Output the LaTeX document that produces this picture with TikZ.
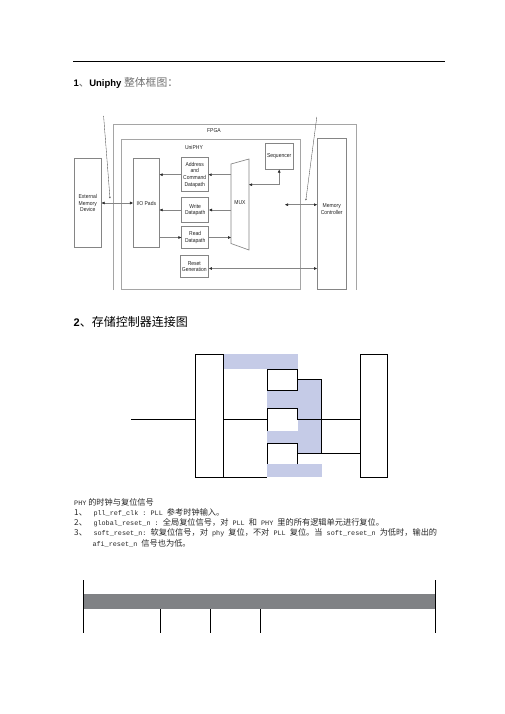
\documentclass[tikz,border=0pt]{standalone}
\usepackage{fontspec}
\setmainfont{Liberation Sans}
\newfontfamily\cjk{Noto Sans CJK SC}
\newfontfamily\monof{Liberation Mono}
\newfontfamily\condf[FakeStretch=0.88]{Liberation Sans}
\usetikzlibrary{arrows.meta}
\definecolor{figline}{HTML}{858585}
\definecolor{fpgaline}{HTML}{A5A5A5}
\definecolor{lav}{HTML}{C5CBE7}
\definecolor{barg}{HTML}{808285}
\definecolor{tgray}{HTML}{707070}
\definecolor{ftext}{HTML}{222222}
\newcommand\mn[1]{{\monof\fontsize{6.8pt}{10pt}\selectfont #1}}
\begin{document}
\begin{tikzpicture}[x=1pt,y=-1pt,
  fbox/.style={draw=figline,line width=0.65pt,inner sep=0pt,align=center,
    font=\condf\fontsize{5.7pt}{6.7pt}\selectfont,text=ftext},
  flbl/.style={inner sep=0pt,align=center,font=\condf\fontsize{5.7pt}{6.7pt}\selectfont,text=ftext},
  fline/.style={draw=figline,line width=0.65pt},
  arr/.style={draw=figline,line width=0.55pt,-{Triangle[length=3pt,width=2.6pt,color=black!85]}},
  darr/.style={draw=figline,line width=0.55pt,{Triangle[length=3pt,width=2.6pt,color=black!85]}-{Triangle[length=3pt,width=2.6pt,color=black!85]}},
  diag/.style={draw=black!70,line width=0.35pt,-{Triangle[length=1.6pt,width=1.4pt]}},
  blk/.style={draw=black,line width=0.9pt},
  txt/.style={anchor=base west,inner sep=0pt,font=\cjk\fontsize{8.2pt}{10pt}\selectfont,text=black!85},
  tick/.style={draw=black,line width=1.1pt}
]
\useasboundingbox (0,0) rectangle (505,714);

% ---------- heading 1 ----------
\draw[line width=0.8pt] (73.3,61.7) -- (445,61.7);
\node[anchor=base west,inner sep=0pt] (title1) at (73.3,86.4)
  {\fontsize{9.5pt}{11pt}\selectfont\bfseries 1{\cjk\mdseries\color{tgray}\fontsize{10.5pt}{12pt}\selectfont 、}Uniphy {\cjk\mdseries\color{tgray}\fontsize{10.8pt}{12pt}\selectfont 整体框图：}};

% ---------- figure 1 : UniPHY ----------
\draw[draw=fpgaline,line width=1pt] (113.3,290) -- (113.3,124.3) -- (356.7,124.3) -- (356.7,290);
\node[flbl] (fpgalbl) at (214,130.8) {FPGA};
\draw[draw=fpgaline,line width=0.9pt] (121.7,139.3) rectangle (300,289);
\node[flbl] (uniphylbl) at (194,147) {UniPHY};

\node[fbox,minimum width=27pt,minimum height=89.4pt] (ext) at (87.8,203) {External\\Memory\\Device};
\node[fbox,minimum width=26pt,minimum height=89.4pt] (io) at (146.3,203) {I/O Pads};
\node[fbox,minimum width=27.3pt,minimum height=34pt] (addr) at (194.7,174.7) {Address\\and\\Command\\Datapath};
\node[fbox,minimum width=27pt,minimum height=25.4pt] (wr) at (195.2,210) {Write\\Datapath};
\node[fbox,minimum width=27pt,minimum height=22pt] (rd) at (195.2,237.5) {Read\\Datapath};
\node[fbox,minimum width=28.7pt,minimum height=22.3pt] (rst) at (194.3,266.5) {Reset\\Generation};
\node[fbox,minimum width=28.3pt,minimum height=26pt] (seq) at (279.2,156.3) {Sequencer};
\node[fbox,minimum width=28.7pt,minimum height=150.7pt] (mc) at (331.7,213.65) {};
\node[flbl] (mclbl) at (331.7,209) {Memory\\Controller};

\draw[fline,fill=white] (231,164) -- (249,159) -- (249,250) -- (231,243.5) -- cycle;
\node[flbl] (mux) at (240,203) {MUX};
\coordinate (muxL) at (231,203);
\coordinate (muxSeq) at (249,184.7);
\coordinate (muxMC) at (285,204.7);

\draw[arr] (addr.east -| muxL) -- (addr.east);
\draw[arr] (addr.west) -- (addr.west -| io.east);
\draw[arr] (wr.east -| muxL) -- (wr.east);
\draw[arr] (wr.west) -- (wr.west -| io.east);
\draw[arr] (rd.west -| io.east) -- (rd.west);
\draw[arr] (rd.east) -- (rd.east -| muxL);
\draw[darr] (ext.east) -- (io.west);
\draw[darr] (seq.south) |- (muxSeq);
\draw[darr] (muxMC) -- (muxMC -| mc.west);
\draw[darr] ([yshift=-2pt]rst.east) -- ([yshift=-2pt]rst.east -| mc.west);

\coordinate (dla) at (103.6,116);
\coordinate (dlb) at (110,198.5);
\coordinate (dra) at (316.8,117);
\coordinate (drb) at (305.8,200.5);
\draw[diag] (dla) -- (dlb);
\draw[diag] (dra) -- (drb);

% ---------- heading 2 ----------
\node[anchor=base west,inner sep=0pt] (title2) at (73.5,326.9)
  {\fontsize{11pt}{13pt}\selectfont\bfseries 2{\cjk\mdseries\fontsize{12pt}{14pt}\selectfont 、存储控制器连接图}};

% ---------- figure 2 ----------
\fill[lav] (223.3,354) rectangle (297.7,368.7);
\fill[lav] (267.3,390.7) rectangle (321.7,409.3);
\fill[lav] (297.7,379.3) rectangle (321.7,454.3);
\fill[lav] (267.3,431) rectangle (321.7,443.3);
\fill[lav] (267.3,464) rectangle (321.7,477.3);

\node[blk,inner sep=0pt,minimum width=28.3pt,minimum height=123.3pt] (L) at (209.15,415.65) {};
\node[blk,inner sep=0pt,minimum width=26.6pt,minimum height=123.3pt] (R) at (374,415.65) {};
\node[blk,inner sep=0pt,minimum width=30.4pt,minimum height=21.4pt] (b1) at (282.5,380) {};
\node[inner sep=0pt,minimum width=30.4pt,minimum height=21.7pt] (b2) at (282.5,419.6) {};
\node[inner sep=0pt,minimum width=30.4pt,minimum height=20.7pt] (b3) at (282.5,453.8) {};

\draw[blk] (b2.east) -- (b2.north east) -- (b2.north west) -- (b2.south west);
\draw[blk] (b3.south east) -- (b3.north east) -- (b3.north west) -- (b3.south west);
\coordinate (bendT) at (321.7,379.3);
\draw[blk] (bendT -| b1.east) -- (bendT) |- (b3.east);
\draw[blk] (b3.east) -- (b3.east -| R.west);
\coordinate (inp) at (131,419.6);
\draw[blk] (inp) -- (inp -| L.west);
\draw[blk] (L.east |- inp) -- (b2.west);
\draw[blk] (b2.east) -- (b2.east -| R.west);
\draw[blk] (L.south east) -- (L.south east -| b3.west);

% ---------- text ----------
\node[txt] (h) at (74,505.2) {\mn{PHY} 的时钟与复位信号};
\node[txt] (n1) at (74,515.9) {1、};
\node[txt] (t1) at (93.3,515.9) {\mn{pll\_ref\_clk\ :\ PLL\ }参考时钟输入。};
\node[txt] (n2) at (74,525.9) {2、};
\node[txt] (t2) at (93.3,525.9) {\mn{global\_reset\_n\ :\ }全局复位信号，对\mn{\ PLL\ }和\mn{\ PHY\ }里的所有逻辑单元进行复位。};
\node[txt] (n3) at (74,535.9) {3、};
\node[txt] (t3) at (93.3,535.9) {\mn{soft\_reset\_n:\ }软复位信号，对\mn{\ phy\ }复位，不对\mn{\ PLL\ }复位。当\mn{\ soft\_reset\_n\ }为低时，输出的};
\node[txt] (t4) at (92.3,546.2) {\mn{afi\_reset\_n\ }信号也为低。};

% ---------- timing bar ----------
\fill[barg] (83.3,594) rectangle (435.7,609.3);
\draw[tick] (83.3,580) -- (83.3,632.7);
\draw[tick] (435.7,580) -- (435.7,632.7);
\draw[tick] (160.3,609.3) -- (160.3,632.7);
\draw[tick] (210.3,609.3) -- (210.3,632.7);
\draw[tick] (260.3,609.3) -- (260.3,632.7);
\end{tikzpicture}
\end{document}
